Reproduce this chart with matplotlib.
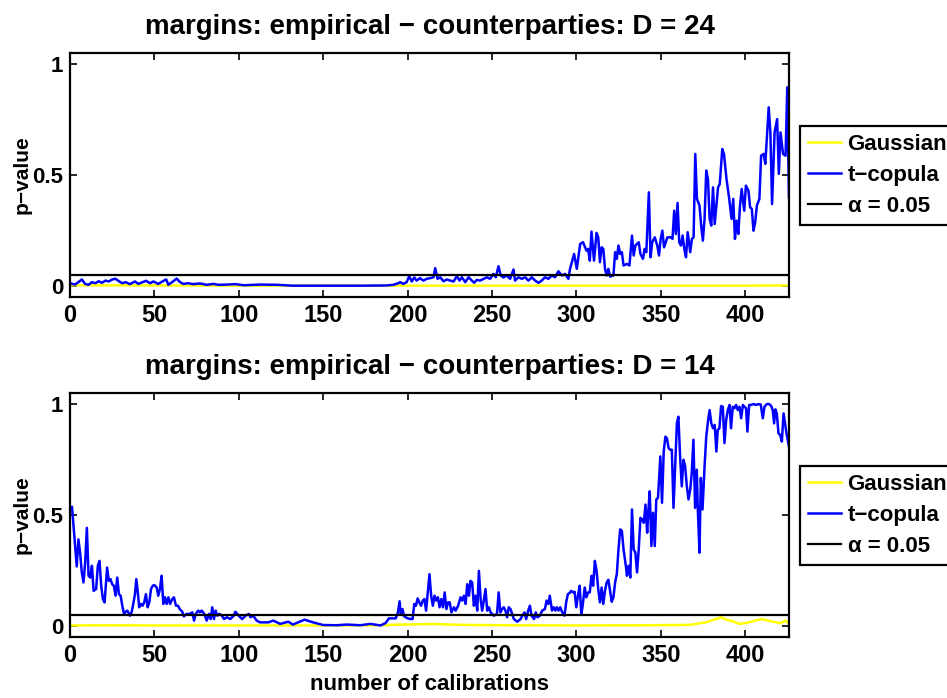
import matplotlib
matplotlib.use("Agg")
import matplotlib.pyplot as plt

plt.rcParams['font.family'] = ['Liberation Sans', 'DejaVu Sans']
plt.rcParams['font.weight'] = 'bold'

# --- D = 24 ---------------------------------------------------------------
calib_24 = [0, 3, 5, 7, 9, 11, 13, 15, 17, 19, 21, 23, 25, 27, 29, 31, 33, 35.5, 38.5, 40.5,
            42.5, 45, 47.4, 49.4, 52.3, 55, 57, 58.3, 61.2, 63.2, 65.2, 67.2, 70, 73, 77, 81,
            85, 88, 93, 98, 103, 112.6, 122.5, 132, 152, 172, 187.6, 191.6, 194.6, 195.6,
            197.5, 199.5, 201, 202.5, 204, 205.4, 207.4, 209.4, 211.4, 213.4, 215.4, 216.4,
            217.8, 219.4, 221.3, 223.3, 225.3, 227.3, 229.2, 230.8, 232.2, 234.2, 236.2, 238.1,
            239.5, 241, 243, 247, 248.9, 250.9, 252.3, 253.9, 255.2, 256.8, 258.8, 260.8, 262.8,
            263.7, 265.7, 267.7, 269.7, 271.6, 273.6, 275.6, 277.6, 279.5, 281.5, 283.5, 285.5,
            287.4, 289.4, 291.4, 293.4, 295.3, 296.3, 298.7, 300.3, 302.3, 304, 306, 307, 308,
            309, 310.5, 312, 313, 314, 315, 316, 317, 318, 319, 320, 322, 323, 324, 325, 326,
            327, 328, 330, 331.5, 333, 334, 335, 337, 338, 339.5, 340.5, 341.5, 343, 344, 345,
            346.5, 348, 349, 350, 351, 352, 354, 356, 357, 358, 359, 360, 361, 362, 363, 364,
            365, 366, 367.5, 368.5, 369.5, 370.5, 371.5, 373, 374, 375, 376, 377, 378, 379, 380,
            381, 382, 383, 384, 385, 386.5, 387.5, 389, 390.5, 392, 393, 394, 395, 396, 397, 398,
            399.5, 400.5, 402, 403, 404, 405, 406, 407, 408.5, 409.5, 411, 412, 414, 415, 416,
            417.5, 419, 420, 421, 422.5, 424, 425, 426]
tcop_24 = [0.012, 0.006, 0.017, 0.029, 0.009, 0.005, 0.017, 0.012, 0.021, 0.014, 0.024, 0.020,
           0.029, 0.032, 0.021, 0.012, 0.017, 0.008, 0.020, 0.009, 0.015, 0.023, 0.012, 0.020,
           0.009, 0.021, 0.029, 0.005, 0.021, 0.033, 0.017, 0.009, 0.012, 0.008, 0.011, 0.005,
           0.009, 0.005, 0.006, 0.008, 0.003, 0.006, 0.005, 0.001, 0.001, 0.001, 0.002, 0.005,
           0.012, 0.017, 0.009, 0.017, 0.044, 0.020, 0.038, 0.024, 0.035, 0.024, 0.032, 0.035,
           0.039, 0.080, 0.032, 0.039, 0.021, 0.029, 0.024, 0.020, 0.044, 0.024, 0.039, 0.017,
           0.039, 0.024, 0.014, 0.027, 0.024, 0.039, 0.032, 0.054, 0.039, 0.089, 0.047, 0.038,
           0.047, 0.032, 0.074, 0.024, 0.039, 0.032, 0.039, 0.024, 0.039, 0.024, 0.014, 0.024,
           0.039, 0.032, 0.047, 0.039, 0.066, 0.047, 0.054, 0.032, 0.077, 0.144, 0.077, 0.189,
           0.197, 0.159, 0.167, 0.114, 0.245, 0.114, 0.239, 0.219, 0.107, 0.174, 0.167, 0.077,
           0.047, 0.077, 0.042, 0.047, 0.152, 0.122, 0.182, 0.144, 0.152, 0.092, 0.099, 0.092,
           0.227, 0.137, 0.182, 0.197, 0.144, 0.122, 0.167, 0.152, 0.422, 0.129, 0.197, 0.219,
           0.182, 0.137, 0.212, 0.249, 0.174, 0.219, 0.219, 0.212, 0.339, 0.234, 0.374, 0.197,
           0.182, 0.227, 0.167, 0.129, 0.242, 0.152, 0.212, 0.219, 0.595, 0.392, 0.362, 0.272,
           0.204, 0.302, 0.520, 0.482, 0.302, 0.272, 0.444, 0.279, 0.362, 0.444, 0.459, 0.617,
           0.595, 0.482, 0.399, 0.302, 0.392, 0.212, 0.294, 0.234, 0.362, 0.437, 0.339, 0.452,
           0.429, 0.354, 0.347, 0.249, 0.287, 0.362, 0.392, 0.587, 0.595, 0.550, 0.805, 0.692,
           0.369, 0.692, 0.752, 0.505, 0.692, 0.595, 0.587, 0.895, 0.399]
gauss_x_24 = [0, 50, 100, 150, 200, 250, 300, 350, 400, 426]
gauss_24 = [0.003, 0.002, 0.001, 0.001, 0.001, 0.001, 0.001, 0.001, 0.001, 0.002]

# --- D = 14 ---------------------------------------------------------------
calib_14 = [0, 1.2, 3, 4, 5, 6, 7, 8, 9, 10, 11, 12, 13, 14, 15.5, 16.5, 17.5, 18.5, 19.5, 20.5,
            22, 23, 24, 25, 26, 27, 28, 29, 30, 31, 32, 33, 34, 35.5, 36.5, 37.5, 38.5, 39.3,
            40.3, 41, 42, 43, 44, 45, 46, 47, 48, 49, 50, 51.4, 52.3, 53.3, 54.3, 55.3, 56.3,
            57.3, 58.3, 59.3, 60.6, 61.6, 62.8, 64, 65, 66.5, 67.5, 69, 71, 72.5, 73.5, 74.5, 76,
            77, 78, 79.6, 81, 82.4, 83.4, 84.3, 85.3, 86.3, 87.3, 88.5, 90, 91.3, 93, 95, 97, 98,
            100, 102, 104, 106, 107, 108.6, 110.6, 112.6, 117.6, 120.5, 124.5, 129.4, 132, 139,
            144, 150, 158, 164, 172, 178, 184, 187, 189, 193, 194.3, 195.3, 196, 197, 198, 200,
            202, 203, 204, 205, 206, 207, 208, 209, 210, 211, 212, 213, 214, 215, 216, 217, 218,
            219, 220, 221, 222, 223, 224, 225, 226, 227.5, 228.5, 230, 231.4, 232.4, 233.4, 234.4,
            235.4, 236.4, 237.3, 238.3, 239.3, 240.3, 241.3, 242.3, 243.3, 244.2, 245.2, 246.2,
            247.2, 248.2, 249.2, 251.2, 253, 254, 255, 256, 257, 258, 259, 260, 261, 262, 263,
            265, 267, 268, 269.3, 270.3, 271.5, 272.5, 273.5, 275, 276, 277, 278.4, 279.8, 281.4,
            282.4, 283.4, 284.3, 285.6, 286.6, 287.6, 288.5, 289.5, 290.5, 291.5, 293, 294, 295,
            296, 297, 298, 299, 300, 301, 302, 303, 304, 305, 306, 307, 308, 309, 310, 311, 312,
            313, 314, 315, 316, 317, 318, 319, 320, 321, 322, 323, 324, 325, 326, 327, 328, 329.5,
            330, 331, 332, 333, 334, 335, 336, 337, 338, 339, 340, 341, 342, 342.5, 343.5, 344.5,
            345.5, 346.5, 347.4, 348.4, 349.8, 350.8, 351.8, 352.8, 353.7, 354.7, 355.7, 356.6,
            357.6, 358.6, 359.6, 360.5, 361.5, 362.5, 363.5, 364.5, 365.5, 366.5, 367.5, 368.4,
            369.4, 370.4, 371.4, 372, 373, 373.8, 374.8, 376, 377, 378, 379, 380, 381, 382, 383,
            383.8, 384.8, 385.8, 386.8, 387.8, 388.8, 389.8, 390.8, 391.7, 392.7, 393.7, 394.7,
            395.7, 396.7, 397.7, 398.7, 399.6, 400.6, 401.4, 402.4, 403.4, 405, 406.6, 408, 409.3,
            410.5, 411.5, 412.9, 414.3, 415.5, 416.4, 417.2, 418, 418.8, 419.8, 420.8, 421.8,
            422.8, 423.7, 424.7, 426]
tcop_14 = [0.532, 0.537, 0.360, 0.268, 0.390, 0.330, 0.241, 0.196, 0.286, 0.442, 0.226, 0.218,
           0.271, 0.158, 0.166, 0.271, 0.293, 0.181, 0.121, 0.106, 0.263, 0.203, 0.211, 0.188,
           0.181, 0.136, 0.218, 0.143, 0.136, 0.091, 0.054, 0.064, 0.069, 0.046, 0.061, 0.099,
           0.143, 0.211, 0.143, 0.084, 0.099, 0.091, 0.106, 0.143, 0.084, 0.106, 0.166, 0.181,
           0.184, 0.173, 0.136, 0.166, 0.226, 0.099, 0.129, 0.099, 0.129, 0.099, 0.121, 0.129,
           0.091, 0.091, 0.076, 0.064, 0.043, 0.054, 0.054, 0.061, 0.024, 0.054, 0.069, 0.061,
           0.069, 0.054, 0.024, 0.054, 0.031, 0.084, 0.031, 0.069, 0.046, 0.054, 0.046, 0.031,
           0.039, 0.031, 0.046, 0.064, 0.046, 0.031, 0.046, 0.054, 0.039, 0.046, 0.024, 0.016,
           0.016, 0.024, 0.009, 0.019, 0.006, 0.028, 0.016, 0.004, 0.003, 0.006, 0.003, 0.009,
           0.002, 0.013, 0.034, 0.034, 0.061, 0.111, 0.054, 0.076, 0.043, 0.034, 0.031, 0.031,
           0.099, 0.091, 0.124, 0.106, 0.091, 0.114, 0.121, 0.069, 0.151, 0.233, 0.136, 0.091,
           0.136, 0.114, 0.129, 0.084, 0.121, 0.084, 0.151, 0.076, 0.106, 0.106, 0.061, 0.084,
           0.069, 0.091, 0.129, 0.114, 0.136, 0.099, 0.188, 0.136, 0.203, 0.196, 0.091, 0.136,
           0.069, 0.248, 0.121, 0.069, 0.114, 0.166, 0.069, 0.084, 0.061, 0.046, 0.054, 0.151,
           0.061, 0.076, 0.084, 0.069, 0.039, 0.084, 0.076, 0.054, 0.031, 0.019, 0.031, 0.046,
           0.061, 0.031, 0.069, 0.091, 0.046, 0.031, 0.061, 0.039, 0.046, 0.069, 0.076, 0.114,
           0.099, 0.136, 0.069, 0.084, 0.069, 0.084, 0.069, 0.084, 0.064, 0.046, 0.106, 0.143,
           0.148, 0.158, 0.151, 0.154, 0.084, 0.136, 0.181, 0.049, 0.106, 0.173, 0.129, 0.151,
           0.151, 0.226, 0.181, 0.293, 0.248, 0.166, 0.106, 0.173, 0.099, 0.158, 0.196, 0.208,
           0.158, 0.109, 0.129, 0.196, 0.233, 0.345, 0.435, 0.428, 0.345, 0.263, 0.226, 0.271,
           0.218, 0.525, 0.345, 0.330, 0.241, 0.345, 0.487, 0.480, 0.465, 0.547, 0.420, 0.495,
           0.607, 0.360, 0.510, 0.360, 0.570, 0.577, 0.764, 0.555, 0.786, 0.853, 0.846, 0.801,
           0.794, 0.794, 0.532, 0.719, 0.913, 0.943, 0.764, 0.629, 0.749, 0.719, 0.629, 0.570,
           0.614, 0.689, 0.839, 0.532, 0.704, 0.525, 0.330, 0.667, 0.525, 0.719, 0.853, 0.921,
           0.973, 0.913, 0.891, 0.906, 0.786, 0.883, 0.891, 0.991, 0.988, 0.824, 0.928, 0.973,
           0.996, 0.891, 0.988, 0.981, 0.996, 0.973, 0.988, 0.936, 0.996, 0.988, 0.981, 0.876,
           0.996, 0.996, 1.0, 0.996, 1.0, 0.998, 0.936, 0.988, 1.0, 1.0, 0.991, 0.973, 0.913,
           0.976, 0.958, 0.868, 0.861, 0.831, 0.958, 0.913, 0.861, 0.809]
gauss_x_14 = [0, 20, 50, 100, 150, 185, 195, 205, 215, 225, 240, 260, 300, 340, 360, 368, 373,
              377, 381, 384, 386, 389, 393, 397, 401, 405, 408, 410, 413, 417, 421, 424, 426]
gauss_14 = [0.002, 0.003, 0.002, 0.002, 0.002, 0.003, 0.006, 0.007, 0.009, 0.006, 0.004, 0.003,
            0.002, 0.003, 0.004, 0.005, 0.012, 0.016, 0.027, 0.033, 0.039, 0.028, 0.020, 0.009,
            0.014, 0.022, 0.028, 0.031, 0.025, 0.018, 0.012, 0.024, 0.010]

alpha = 0.05
n_max = 426

panels = [
    ("margins: empirical \u2212 counterparties: D = 24", calib_24, tcop_24, gauss_x_24, gauss_24),
    ("margins: empirical \u2212 counterparties: D = 14", calib_14, tcop_14, gauss_x_14, gauss_14),
]

fig = plt.figure(figsize=(9.47, 6.98), dpi=100)
rects = [[0.0739, 0.5745, 0.7592, 0.3496], [0.0739, 0.0874, 0.7592, 0.3496]]

for rect, (title, cx, ty, gx, gy) in zip(rects, panels):
    ax = fig.add_axes(rect)
    ax.plot(gx, gy, color=(1, 1, 0), lw=1.8, label='Gaussian')
    ax.plot(cx, ty, color=(0, 0, 1), lw=1.8, label='t\u2212copula')
    ax.plot([0, n_max], [alpha, alpha], color='k', lw=1.6, label='\u03b1 = 0.05')

    ax.set_xlim(0, n_max)
    ax.set_ylim(-0.05, 1.05)
    ax.set_xticks(range(0, 401, 50))
    ax.set_yticks([0, 0.5, 1])
    ax.set_yticklabels(['0', '0.5', '1'])
    ax.tick_params(direction='in', top=True, right=True, length=5, width=1.2,
                   labelsize=17, pad=5)
    ax.tick_params(axis='y', labelsize=16)
    for lbl in ax.get_xticklabels() + ax.get_yticklabels():
        lbl.set_fontweight('bold')
    for sp in ax.spines.values():
        sp.set_linewidth(1.6)

    ax.set_title(title, fontsize=20, fontweight='bold', pad=14)
    ax.set_ylabel('p\u2212value', fontsize=15, fontweight='bold', labelpad=0)

    leg = ax.legend(loc='upper left', bbox_to_anchor=(1.015, 0.70), borderaxespad=0,
                    fontsize=16, fancybox=False, framealpha=1, edgecolor='k',
                    handlelength=1.5, handletextpad=0.3, borderpad=0.35, labelspacing=0.45)
    leg.get_frame().set_linewidth(1.6)
    for txt in leg.get_texts():
        txt.set_fontweight('bold')

ax.set_xlabel('number of calibrations', fontsize=16, fontweight='bold', labelpad=5)

fig.savefig('out.png', dpi=100)
